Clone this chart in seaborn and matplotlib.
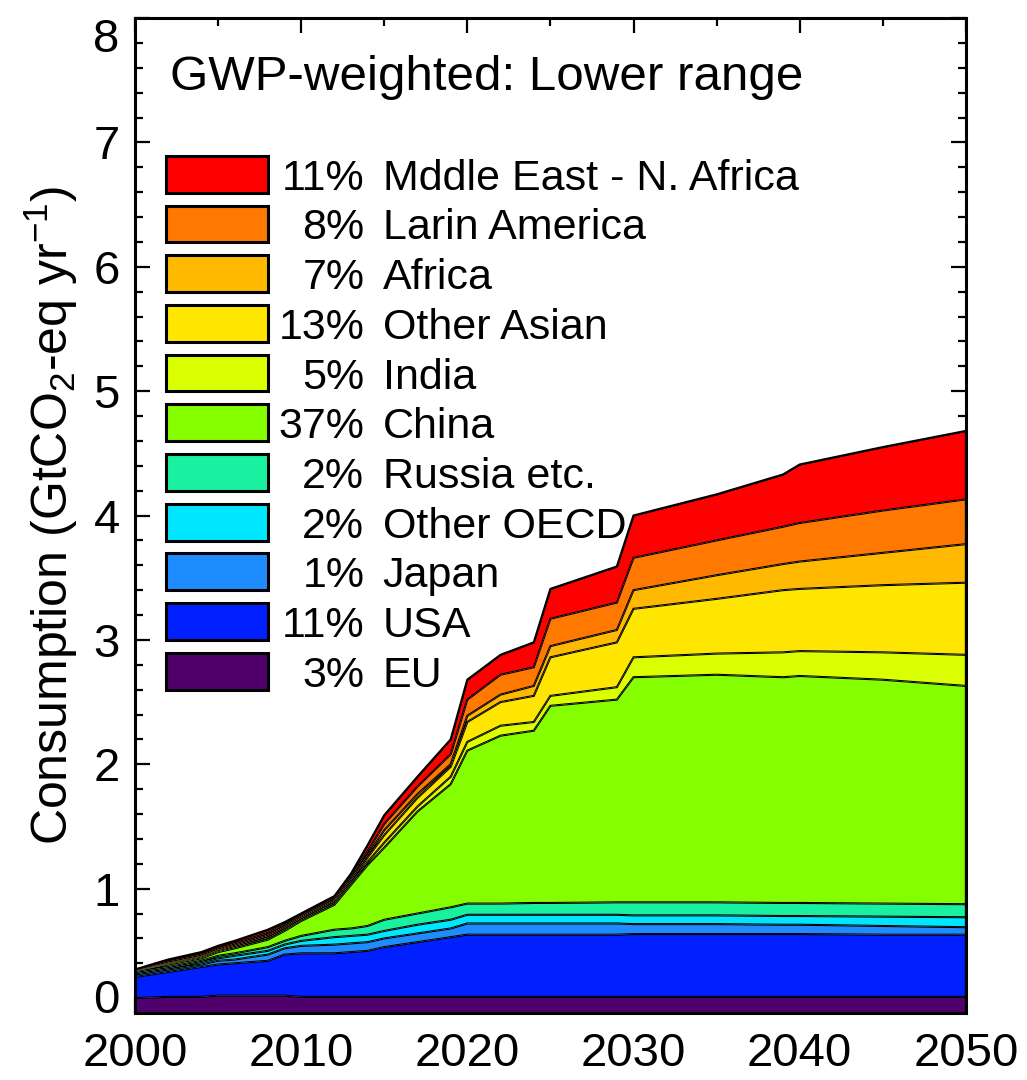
import numpy as np
import pandas as pd
import matplotlib
matplotlib.use("Agg")
import matplotlib.pyplot as plt
from matplotlib.patches import Rectangle
from matplotlib.ticker import MultipleLocator
import seaborn as sns
import seaborn.objects as so

# ---- data -------------------------------------------------------------
years = [2000, 2002, 2004, 2005, 2006, 2008, 2009, 2010, 2012, 2013, 2014, 2015,
         2017, 2019, 2020, 2022, 2024, 2025, 2029, 2030, 2035, 2039, 2040, 2045, 2050]

eu = [0.12, 0.13, 0.13, 0.14, 0.14, 0.14, 0.14, 0.13, 0.13, 0.13, 0.13, 0.13,
      0.13, 0.13, 0.13, 0.13, 0.13, 0.13, 0.13, 0.13, 0.13, 0.13, 0.13, 0.13, 0.13]
usa = [0.17, 0.20, 0.24, 0.25, 0.26, 0.28, 0.33, 0.35, 0.35, 0.36, 0.37, 0.40,
       0.44, 0.48, 0.50, 0.50, 0.50, 0.50, 0.50, 0.505, 0.505, 0.505, 0.505, 0.50, 0.50]
japan = [0.02, 0.02, 0.02, 0.03, 0.03, 0.05, 0.05, 0.06, 0.07, 0.07, 0.07, 0.07,
         0.07, 0.07, 0.09, 0.09, 0.09, 0.09, 0.09, 0.08, 0.08, 0.075, 0.075, 0.07, 0.06]
other_oecd = [0.01, 0.01, 0.02, 0.02, 0.03, 0.03, 0.03, 0.04, 0.06, 0.06, 0.06, 0.06,
              0.07, 0.07, 0.07, 0.07, 0.07, 0.07, 0.07, 0.07, 0.07, 0.07, 0.07, 0.075, 0.08]
russia = [0.01, 0.01, 0.01, 0.02, 0.02, 0.03, 0.03, 0.04, 0.06, 0.06, 0.07, 0.09,
          0.09, 0.10, 0.09, 0.09, 0.095, 0.095, 0.10, 0.105, 0.105, 0.105, 0.105, 0.105, 0.105]
china = [0.005, 0.02, 0.02, 0.03, 0.04, 0.06, 0.08, 0.12, 0.20, 0.35, 0.49, 0.58,
         0.82, 0.99, 1.23, 1.35, 1.385, 1.585, 1.63, 1.81, 1.83, 1.815, 1.825, 1.80, 1.755]
india = [0.002, 0.005, 0.007, 0.007, 0.01, 0.015, 0.01, 0.01, 0.015, 0.015, 0.025, 0.04,
         0.04, 0.06, 0.07, 0.08, 0.07, 0.08, 0.10, 0.16, 0.17, 0.20, 0.20, 0.22, 0.25]
other_asian = [0.003, 0.005, 0.008, 0.008, 0.01, 0.015, 0.015, 0.015, 0.015, 0.02, 0.035, 0.06,
               0.07, 0.08, 0.16, 0.19, 0.21, 0.31, 0.36, 0.39, 0.44, 0.50, 0.50, 0.54, 0.58]
africa = [0.002, 0.005, 0.005, 0.005, 0.01, 0.01, 0.01, 0.01, 0.01, 0.015, 0.02, 0.04,
          0.03, 0.02, 0.05, 0.06, 0.08, 0.09, 0.10, 0.15, 0.19, 0.21, 0.22, 0.26, 0.31]
latin_america = [0.003, 0.01, 0.01, 0.01, 0.01, 0.015, 0.015, 0.01, 0.015, 0.02, 0.03, 0.05,
                 0.06, 0.08, 0.13, 0.16, 0.15, 0.22, 0.22, 0.26, 0.28, 0.30, 0.31, 0.34, 0.36]
middle_east = [0.005, 0.015, 0.02, 0.02, 0.02, 0.025, 0.02, 0.015, 0.015, 0.02, 0.05, 0.07,
               0.08, 0.12, 0.16, 0.16, 0.20, 0.24, 0.29, 0.34, 0.37, 0.42, 0.47, 0.51, 0.55]

# stacking order, bottom to top
regions = ["EU", "USA", "Japan", "Other OECD", "Russia etc.", "China", "India",
           "Other Asian", "Africa", "Larin America", "Mddle East - N. Africa"]
series = [eu, usa, japan, other_oecd, russia, china, india,
          other_asian, africa, latin_america, middle_east]
shares = ["3%", "11%", "1%", "2%", "2%", "37%", "5%", "13%", "7%", "8%", "11%"]
colors = ["#50006A", "#0020FF", "#1E8CFF", "#00E6FF", "#19F0A0", "#85FF00",
          "#D9FF00", "#FFE600", "#FFB900", "#FF7800", "#FF0000"]

x_ticks = [2000, 2010, 2020, 2030, 2040, 2050]
y_ticks = [0, 1, 2, 3, 4, 5, 6, 7, 8]
title = "GWP-weighted: Lower range"
y_label = r"Consumption (GtCO$_2$-eq yr$^{-1}$)"

# ---- style ------------------------------------------------------------
FONT = "Liberation Sans"
sns.set_theme(style="ticks")
plt.rcParams["font.family"] = [FONT, "DejaVu Sans"]
plt.rcParams["mathtext.fontset"] = "custom"
plt.rcParams["mathtext.rm"] = FONT
plt.rcParams["mathtext.it"] = FONT
plt.rcParams["mathtext.bf"] = FONT

df = pd.DataFrame({
    "year": np.tile(years, len(regions)),
    "region": np.repeat(regions, len(years)),
    "value": np.concatenate(series),
})

fig = plt.figure(figsize=(10.27, 10.8), dpi=100)
ax = fig.add_axes([0.1314, 0.0620, 0.8091, 0.9213])

theme = {**sns.axes_style("ticks"), "font.family": [FONT, "DejaVu Sans"],
         "axes.facecolor": "white", "figure.facecolor": "white"}

(
    so.Plot(df, x="year", y="value")
    .add(so.Area(alpha=1, edgecolor="black", edgewidth=0.75), so.Stack(),
         color="region", legend=False)
    # outline of the regional total along the top of the stack
    .add(so.Line(color="black", linewidth=1.6), so.Agg("sum"), legend=False)
    .scale(color=dict(zip(regions, colors)))
    .theme(theme)
    .on(ax)
    .plot()
)

# ---- axes -------------------------------------------------------------
ax.set_xlim(2000, 2050)
ax.set_ylim(0, 8)
ax.set_xticks(x_ticks, labels=[str(v) for v in x_ticks])
ax.set_yticks(y_ticks, labels=[str(v) for v in y_ticks])
ax.xaxis.set_minor_locator(MultipleLocator(5))
ax.yaxis.set_minor_locator(MultipleLocator(0.2))
ax.tick_params(which="both", direction="in", top=True, right=True,
               width=1.6, color="black")
ax.tick_params(which="major", length=11)
ax.tick_params(which="minor", length=6)
ax.tick_params(axis="x", which="major", pad=14, labelsize=34,
               labelfontfamily=FONT, labelcolor="black")
ax.tick_params(axis="y", which="major", pad=11, labelsize=34,
               labelfontfamily=FONT, labelcolor="black")
for s in ax.spines.values():
    s.set_visible(True)
    s.set_linewidth(2.2)
    s.set_color("black")
    s.set_zorder(6)
ax.grid(False)
ax.set_xlabel("")
ax.set_ylabel(y_label, fontsize=36, fontfamily=FONT, color="black")
ax.yaxis.set_label_coords(-0.066, 0.5)

yt = ax.yaxis.get_major_ticks()
yt[0].label1.set_va("baseline")
yt[-1].label1.set_va("top")

# ---- title and legend -------------------------------------------------
ax.text(0.042, 0.94, title, transform=ax.transAxes, fontsize=35.5,
        fontfamily=FONT, va="center", ha="left", color="black", zorder=7)

row_top = 0.843      # centre of first legend row (axes fraction)
row_step = 0.04995
for i, (name, share, col) in enumerate(zip(regions[::-1], shares[::-1], colors[::-1])):
    yc = row_top - i * row_step
    ax.add_patch(Rectangle((0.037, yc - 0.0185), 0.123, 0.037, transform=ax.transAxes,
                           facecolor=col, edgecolor="black", linewidth=2.2,
                           zorder=7, clip_on=False))
    ax.text(0.276, yc, share, transform=ax.transAxes, fontsize=31, fontfamily=FONT,
            ha="right", va="center_baseline", color="black", zorder=8)
    ax.text(0.298, yc, name, transform=ax.transAxes, fontsize=31, fontfamily=FONT,
            ha="left", va="center_baseline", color="black", zorder=8)

fig.savefig("out.png", dpi=100, facecolor="white")
